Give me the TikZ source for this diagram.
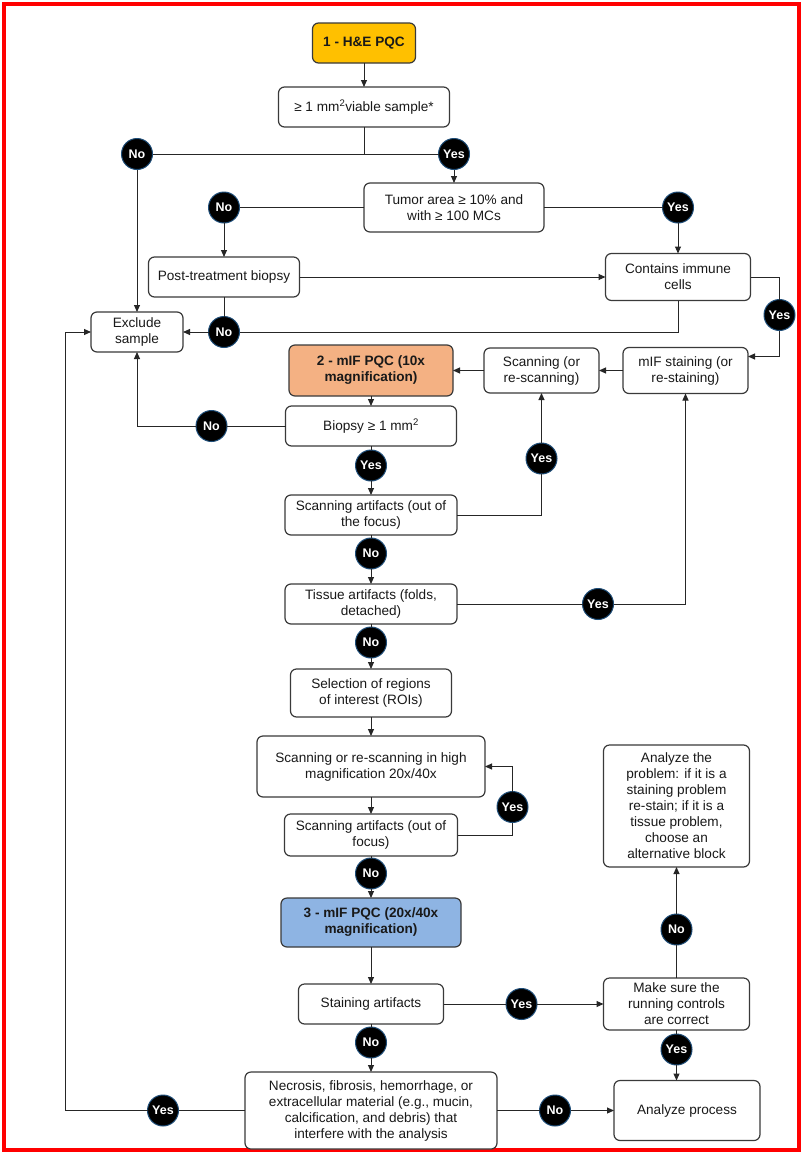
\documentclass[tikz,border=0pt]{standalone}
\usepackage{fontspec}
\setmainfont{Liberation Sans}
\usepackage{xcolor}
\definecolor{darkgray}{HTML}{3A3A3A}
\definecolor{linegray}{HTML}{262626}
\definecolor{hegold}{HTML}{FFC000}
\definecolor{mifpeach}{HTML}{F4B183}
\definecolor{mifblue}{HTML}{8EB4E3}
\definecolor{ringblue}{HTML}{1F4E79}
\definecolor{borderred}{HTML}{FF0000}
\usetikzlibrary{positioning,arrows.meta}
\newcommand\boxfont{\fontsize{13.6}{16}\selectfont}

\begin{document}
\begin{tikzpicture}[terminal/.style={
					rectangle, rounded corners = 6pt, line width = 1.2pt,
					draw = darkgray, fill = white, align = center, inner sep = 2pt,
					outer sep = 0pt, text = black!90, font = \boxfont},
		stage/.style={terminal, font = \boxfont\bfseries},
		answer/.style={circle, fill = black, draw = ringblue, line width = 1pt,
					minimum size = 31pt, inner sep = 0pt, outer sep = 0pt, text = white,
					font = \fontsize{12.5}{12.5}\selectfont\bfseries},
		flow/.style={line width = 1pt, draw = linegray},
		arrowline/.style={flow, -{Triangle[length=7pt,width=6pt]}}]
		\useasboundingbox (0,0) rectangle (803pt,-1154pt);
		\fill[white] (0,0) rectangle (803pt,-1154pt);
		\draw[borderred, line width = 4pt] (4pt,-4pt) rectangle (799pt,-1150pt);
		% boxes
		\node (HE) [stage, fill = hegold, minimum width = 103pt, minimum height = 40pt] at (364pt,-43pt) {1 - H\&E PQC};
		\node (V1) [terminal, minimum width = 171pt, minimum height = 40pt, below=24pt of HE] {≥ 1 mm\textsuperscript{2}viable sample*};
		\node (TU) [terminal, minimum width = 180pt, minimum height = 49pt, below=56pt of V1, xshift=90pt] {Tumor area ≥ 10\% and\\with ≥ 100 MCs};
		\node (PT) [terminal, minimum width = 151pt, minimum height = 40pt, below=25pt of TU, xshift=-230pt] {Post-treatment biopsy};
		\node (CI) [terminal, minimum width = 145pt, minimum height = 47pt, right=306pt of PT] {Contains immune\\cells};
		\node (EX) [terminal, minimum width = 92pt, minimum height = 40pt, below=15pt of PT, xshift=-87pt] {Exclude\\sample};
		\node (P2) [stage, fill = mifpeach, minimum width = 164pt, minimum height = 51pt, below=113pt of TU, xshift=-83pt] {2 - mIF PQC (10x\\magnification)};
		\node (SC) [terminal, minimum width = 115pt, minimum height = 45pt, right=31pt of P2] {Scanning (or\\re-scanning)};
		\node (MS) [terminal, minimum width = 125pt, minimum height = 46pt, right=24pt of SC] {mIF staining (or\\re-staining)};
		\node (BI) [terminal, minimum width = 171pt, minimum height = 40pt, below=10pt of P2] {Biopsy ≥ 1 mm\textsuperscript{2}};
		\node (SA1) [terminal, minimum width = 172pt, minimum height = 40pt, below=49pt of BI] {Scanning artifacts (out of\\the focus)};
		\node (TA) [terminal, minimum width = 172pt, minimum height = 40pt, below=49pt of SA1] {Tissue artifacts (folds,\\detached)};
		\node (SE) [terminal, minimum width = 161pt, minimum height = 48pt, below=45pt of TA] {Selection of regions\\of interest (ROIs)};
		\node (SR) [terminal, minimum width = 228pt, minimum height = 61pt, below=19pt of SE] {Scanning or re-scanning in high\\magnification 20x/40x};
		\node (SA2) [terminal, minimum width = 173pt, minimum height = 42pt, below=17pt of SR] {Scanning artifacts (out of\\focus)};
		\node (P3) [stage, fill = mifblue, minimum width = 180pt, minimum height = 49pt, below=42pt of SA2] {3 - mIF PQC (20x/40x\\magnification)};
		\node (ST) [terminal, minimum width = 145pt, minimum height = 40pt, below=37pt of P3] {Staining artifacts};
		\node (NE) [terminal, minimum width = 252pt, minimum height = 77pt, below=48pt of ST] {Necrosis, fibrosis, hemorrhage, or\\extracellular material (e.g., mucin,\\calcification, and debris) that\\interfere with the analysis};
		\node (MK) [terminal, minimum width = 146pt, minimum height = 52pt, right=160pt of ST] {Make sure the\\running controls\\are correct};
		\node (AP) [terminal, minimum width = 146pt, minimum height = 122pt, above=111pt of MK] {Analyze the\\problem: if it is a\\staining problem\\re-stain; if it is a\\tissue problem,\\choose an\\alternative block};
		\node (AN) [terminal, minimum width = 146pt, minimum height = 60pt, right=117pt of NE] {Analyze process};
		% yes / no marks
		\coordinate (J1) at ([yshift=-27pt]V1.south);
		\coordinate (L1) at ([xshift=-180pt]NE.west);
		\node (n1) [answer] at (EX.north |- J1) {No};
		\node (n3) [answer] at (TU.north |- J1) {Yes};
		\node (n2) [answer] at (PT.north |- TU.west) {No};
		\node (n5) [answer] at (CI.north |- TU.east) {Yes};
		\node (n4) [answer] at (PT.south |- EX.east) {No};
		\node (n6) [answer] at ([xshift=29pt,yshift=-38pt]CI.east) {Yes};
		\node (n7) [answer] at ([xshift=-74pt]BI.west) {No};
		\node (n8) [answer, below=4pt of BI] {Yes};
		\node (n9) [answer, below=50pt of SC] {Yes};
		\node (n10) [answer, below=3pt of SA1] {No};
		\node (n11) [answer] at ([xshift=141pt]TA.east) {Yes};
		\node (n12) [answer, below=3pt of TA] {No};
		\node (n13) [answer] at ([xshift=55pt,yshift=28pt]SA2.east) {Yes};
		\node (n14) [answer, below=2pt of SA2] {No};
		\node (n15) [answer] at ([xshift=78pt]ST.east) {Yes};
		\node (n16) [answer, above=33pt of MK] {No};
		\node (n17) [answer, below=4pt of MK] {Yes};
		\node (n18) [answer, below=3pt of ST] {No};
		\node (n19) [answer] at ([xshift=58pt]NE.east) {No};
		\node (n20) [answer] at ([xshift=-82pt]NE.west) {Yes};
		% connectors
		\draw[arrowline] (HE) -- (V1);
		\draw[flow] (V1.south) -- (J1);
		\draw[flow] (J1) -- (n1);
		\draw[flow] (J1) -- (n3);
		\draw[arrowline] (n1) -- (EX.north);
		\draw[arrowline] (n3) -- (TU.north);
		\draw[flow] (TU.west) -- (n2);
		\draw[arrowline] (n2) -- (PT.north);
		\draw[flow] (TU.east) -- (n5);
		\draw[arrowline] (n5) -- (CI.north);
		\draw[arrowline] (PT.east) -- (PT.east -| CI.west);
		\draw[flow] (PT.south) -- (n4);
		\draw[flow] (CI.south) |- (n4);
		\draw[arrowline] (n4) -- (EX.east);
		\draw[flow] (CI.east) -| (n6);
		\draw[arrowline] (n6) |- ([yshift=14pt]MS.east);
		\draw[arrowline] (MS.west) -- (SC.east);
		\draw[arrowline] (SC.west) -- (P2.east);
		\draw[arrowline] (P2) -- (BI);
		\draw[flow] (BI.west) -- (n7);
		\draw[arrowline] (n7) -| (EX.south);
		\draw[flow] (BI) -- (n8);
		\draw[arrowline] (n8) -- (SA1);
		\draw[flow] (SA1.east) -| (n9);
		\draw[arrowline] (n9) -- (SC);
		\draw[flow] (SA1) -- (n10);
		\draw[arrowline] (n10) -- (TA);
		\draw[flow] (TA.east) -- (n11);
		\draw[arrowline] (n11) -| (MS.south);
		\draw[flow] (TA) -- (n12);
		\draw[arrowline] (n12) -- (SE);
		\draw[arrowline] (SE) -- (SR);
		\draw[arrowline] (SR) -- (SA2);
		\draw[flow] (SA2.east) -| (n13);
		\draw[arrowline] (n13) |- (SR.east);
		\draw[flow] (SA2) -- (n14);
		\draw[arrowline] (n14) -- (P3);
		\draw[arrowline] (P3) -- (ST);
		\draw[flow] (ST.east) -- (n15);
		\draw[arrowline] (n15) -- (n15 -| MK.west);
		\draw[flow] (MK) -- (n16);
		\draw[arrowline] (n16) -- (AP);
		\draw[flow] (MK) -- (n17);
		\draw[arrowline] (n17) -- (n17 |- AN.north);
		\draw[flow] (ST) -- (n18);
		\draw[arrowline] (n18) -- (NE);
		\draw[flow] (NE.east) -- (n19);
		\draw[arrowline] (n19) -- (n19 -| AN.west);
		\draw[flow] (NE.west) -- (n20);
		\draw[arrowline] (n20) -- (L1) |- (EX.west);
	\end{tikzpicture}
\end{document}
